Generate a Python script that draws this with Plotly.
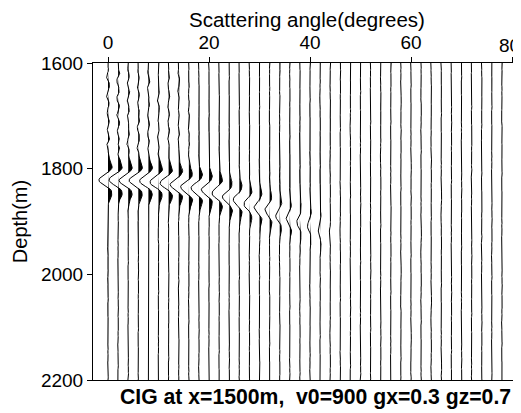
import numpy as np
import plotly.graph_objects as go

# ---- data ----
angles = list(range(0, 80, 2))  # trace positions (degrees)
x_ticks = [0, 20, 40, 60, 80]
y_ticks = [1600, 1800, 2000, 2200]
# depth (m) of the main event centre (trough) per trace, angles 0..44
event_depth = [1821, 1821, 1822, 1822, 1823, 1825, 1827, 1830, 1835, 1837,
               1840, 1846, 1854, 1859, 1867, 1873, 1878, 1888, 1893, 1901,
               1908, 1916, 1922]
# trough amplitude (degrees of deflection) per trace, angles 0..44
event_amp = [1.8, 1.8, 1.8, 1.8, 1.75, 1.7, 1.7, 1.65, 1.6, 1.55,
             1.5, 1.4, 1.3, 1.2, 1.1, 1.0, 0.9, 0.8, 0.7, 0.6,
             0.5, 0.35, 0.2]
# weak shallow noise amplitude per trace (angles 0..16)
shallow_amp = [0.3, 0.35, 0.3, 0.28, 0.25, 0.22, 0.2, 0.18, 0.15]
shallow_pattern = [0.2, 0.9, -0.3, -0.8, 0.6, 1.0, -0.2, -0.9, 0.4, 0.7,
                   -0.6, -0.4, 0.8, 0.3, -0.7, 0.5, 0.9, -0.5, -0.1, 0.6]
jitter_pattern = [0.3, -0.6, 0.8, -0.2, -0.9, 0.5, 0.1, -0.4, 0.9, -0.7,
                  0.2, 0.6, -0.8, 0.4, -0.1, -0.5, 0.7, -0.3, 0.9, -0.6,
                  0.1, 0.5, -0.9]
jitter_amp = 0.08

depth = np.arange(1600, 2200.1, 2.0)
pik = 0.049


def ricker(u):
    a = (pik * u) ** 2
    return (1 - 2 * a) * np.exp(-a)


fig = go.Figure()
for i, a in enumerate(angles):
    s = np.zeros_like(depth)
    if i < len(event_depth):
        s += -event_amp[i] * ricker(depth - event_depth[i])
    nodes = np.arange(1600, 2209, 7.0)
    jv = [jitter_pattern[(j + 5 * i) % len(jitter_pattern)] for j in range(len(nodes))]
    s += jitter_amp * np.interp(depth, nodes, jv)
    if i < len(shallow_amp):
        n2 = np.arange(1600, 2212, 9.0)
        sv = [shallow_pattern[(j + 3 * i) % len(shallow_pattern)] for j in range(len(n2))]
        win = np.clip((1785 - depth) / 30.0, 0, 1) * np.clip((depth - 1605) / 15.0, 0, 1)
        s += shallow_amp[i] * win * np.interp(depth, n2, sv)
    xs = a + s
    pos = a + np.maximum(s, 0)
    fig.add_trace(go.Scatter(
        x=np.concatenate([pos, np.full_like(depth, a)[::-1]]),
        y=np.concatenate([depth, depth[::-1]]),
        fill="toself", fillcolor="black", line=dict(width=0),
        mode="lines", hoverinfo="skip", showlegend=False))
    fig.add_trace(go.Scatter(x=xs, y=depth, mode="lines",
                             line=dict(color="black", width=1),
                             hoverinfo="skip", showlegend=False))

font = "Liberation Sans, Arial, sans-serif"
tick_size = 19
fig.update_layout(
    width=513, height=405,
    margin=dict(l=85, r=0, t=55, b=33, autoexpand=False),
    paper_bgcolor="white", plot_bgcolor="white",
    font=dict(family=font, size=tick_size, color="black"),
    xaxis=dict(side="top", range=[-2.97, 81.78], tickvals=x_ticks,
               showline=True, linecolor="black", linewidth=1, mirror=True,
               ticks="outside", ticklen=5, tickcolor="black",
               showgrid=False, zeroline=False, automargin=False,
               title=dict(text="Scattering angle(degrees)", standoff=2,
                          font=dict(size=20.5))),
    yaxis=dict(range=[2200, 1600], tickvals=y_ticks,
               showline=True, linecolor="black", linewidth=1,
               ticks="outside", ticklen=5, tickcolor="black",
               showgrid=False, zeroline=False, automargin=False,
               title=dict(text="Depth(m)", standoff=7, font=dict(size=20))),
    annotations=[
        dict(text="<b>CIG at x=1500m,  v0=900 gx=0.3 gz=0.7</b>",
             xref="paper", yref="paper", x=0.521, y=0,
             xanchor="center", yanchor="top", yshift=-3,
             showarrow=False, font=dict(size=21.2, family=font)),
        dict(text=str(x_ticks[-1]), xref="x", yref="paper", x=x_ticks[-1], y=1,
             xanchor="right", yanchor="bottom", xshift=10, yshift=5,
             showarrow=False, font=dict(size=tick_size, family=font)),
    ],
)
fig.write_html("out.html")
